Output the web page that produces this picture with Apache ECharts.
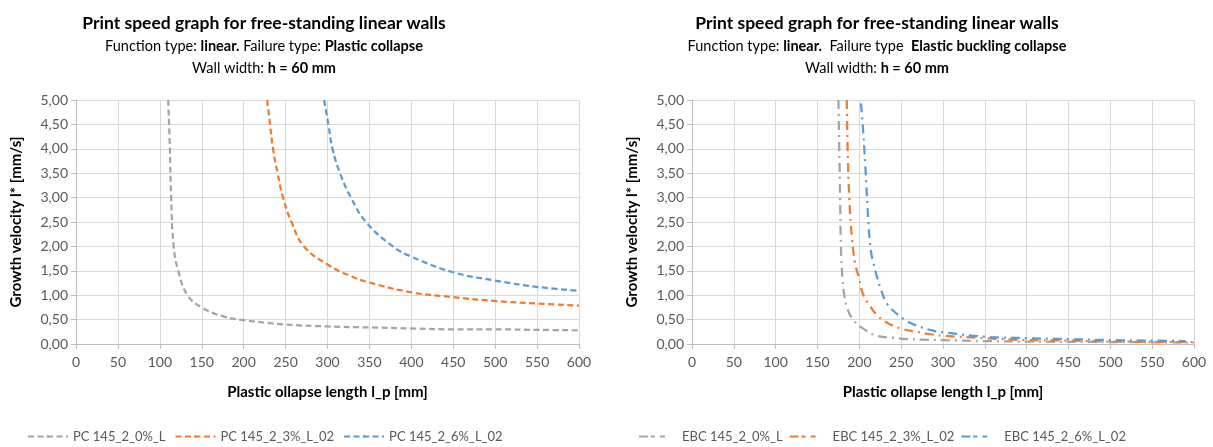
<!DOCTYPE html>
<html>
<head>
<meta charset="utf-8">
<script src="https://cdn.jsdelivr.net/npm/echarts@6/dist/echarts.min.js"></script>
<style>
  html, body { margin: 0; padding: 0; background: #fff; }
  #chart { width: 1213px; height: 447px; }
</style>
</head>
<body>
<div id="chart"></div>
<script>
// Plastic collapse (left panel): length l_p [mm] vs growth velocity [mm/s]
const pc0X = [110, 112, 113.5, 116.5, 122, 133, 150, 175, 200, 250, 300, 350, 400, 450, 500, 550, 600];
const pc0Y = [5.0, 4.0, 3.0, 2.0, 1.5, 1.0, 0.75, 0.57, 0.49, 0.40, 0.36, 0.34, 0.32, 0.30, 0.30, 0.29, 0.28];
const pc3X = [228, 231.5, 235, 240.5, 247, 257, 272, 300, 325, 350, 400, 450, 500, 550, 600];
const pc3Y = [5.0, 4.5, 4.0, 3.5, 3.0, 2.5, 2.0, 1.63, 1.41, 1.26, 1.06, 0.96, 0.88, 0.83, 0.785];
const pc6X = [296, 301, 306, 315, 328, 346, 378, 400, 450, 500, 550, 600];
const pc6Y = [5.0, 4.5, 4.0, 3.5, 3.0, 2.5, 2.0, 1.79, 1.47, 1.30, 1.17, 1.09];

// Elastic buckling collapse (right panel)
const ebc0X = [175, 176, 177, 178, 180, 182, 186, 194, 207, 223, 240, 256, 275, 300, 350, 400, 500, 600];
const ebc0Y = [5.0, 4.0, 3.0, 2.0, 1.3, 1.0, 0.71, 0.47, 0.29, 0.16, 0.13, 0.10, 0.09, 0.08, 0.06, 0.05, 0.04, 0.03];
const ebc3X = [185, 186, 188, 191, 195, 200, 204, 212, 223, 236, 251, 269, 285, 300, 350, 400, 450, 500, 600];
const ebc3Y = [5.0, 4.0, 3.0, 2.2, 1.65, 1.33, 1.04, 0.80, 0.56, 0.41, 0.31, 0.25, 0.20, 0.17, 0.12, 0.08, 0.07, 0.05, 0.04];
const ebc6X = [202, 204, 207, 211, 214, 217, 221, 226, 233, 244, 257, 273, 289, 300, 350, 400, 450, 500, 550, 590];
const ebc6Y = [4.93, 4.5, 3.69, 2.47, 1.89, 1.65, 1.38, 1.11, 0.83, 0.63, 0.47, 0.35, 0.27, 0.24, 0.15, 0.12, 0.10, 0.08, 0.07, 0.06];

const leftNames = ['PC 145_2_0%_L', 'PC 145_2_3%_L_02', 'PC 145_2_6%_L_02'];
const rightNames = ['EBC 145_2_0%_L', 'EBC 145_2_3%_L_02', 'EBC 145_2_6%_L_02'];

const xTicks = { min: 0, max: 600, interval: 50 };
const yTicks = { min: 0, max: 5, interval: 0.5 };

const GRAY = '#A5A5A5', ORANGE = '#ED7D31', BLUE = '#5B9BD5';
const FONT = 'Lato, "Open Sans", sans-serif';
const LABEL_COLOR = '#595959';

const pairs = (xs, ys) => xs.map((x, i) => [x, ys[i]]);

function xAxis(gridIndex) {
  return {
    type: 'value', gridIndex, min: xTicks.min, max: xTicks.max, interval: xTicks.interval,
    name: 'Plastic ollapse length l_p [mm]', nameLocation: 'middle', nameGap: 41,
    nameTextStyle: { fontFamily: FONT, fontWeight: 'bold', fontSize: 15, color: '#000' },
    axisLine: { show: true, lineStyle: { color: '#BFBFBF' } },
    axisTick: { show: true, length: 5, lineStyle: { color: '#BFBFBF' } },
    axisLabel: { fontFamily: FONT, fontSize: 14, color: LABEL_COLOR, margin: 11 },
    splitLine: { show: true, lineStyle: { color: '#D9D9D9' } }
  };
}
function yAxis(gridIndex) {
  return {
    type: 'value', gridIndex, min: yTicks.min, max: yTicks.max, interval: yTicks.interval,
    name: 'Growth velocity l* [mm/s]', nameLocation: 'middle', nameGap: 52, nameRotate: 90,
    nameTextStyle: { fontFamily: FONT, fontWeight: 'bold', fontSize: 15, color: '#000' },
    axisLine: { show: true, lineStyle: { color: '#BFBFBF' } },
    axisTick: { show: true, length: 5, lineStyle: { color: '#BFBFBF' } },
    axisLabel: { fontFamily: FONT, fontSize: 14, color: LABEL_COLOR, margin: 8,
      formatter: v => v.toFixed(2).replace('.', ',') },
    splitLine: { show: true, lineStyle: { color: '#D9D9D9' } }
  };
}

function line(name, xs, ys, color, dash, idx) {
  return {
    name, type: 'line', xAxisIndex: idx, yAxisIndex: idx,
    data: pairs(xs, ys), showSymbol: false, symbol: 'none',
    smooth: 0.45,
    lineStyle: { color, width: 2.25, type: dash },
    itemStyle: { color }
  };
}

const DASH = [6, 3.5];
const DASH_DOT = [9, 5, 2, 5];

function titleText(failLabel, failValue) {
  return '{t|Print speed graph for free-standing linear walls}\n' +
    '{n|Function type: }{b|linear.}{n|' + failLabel + '}{b|' + failValue + '}\n' +
    '{n|Wall width: }{b|h = 60 mm}';
}
const titleRich = {
  t: { fontFamily: FONT, fontWeight: 'bold', fontSize: 17.5, color: '#000', lineHeight: 23 },
  n: { fontFamily: FONT, fontWeight: 'normal', fontSize: 14.5, color: '#000', lineHeight: 22 },
  b: { fontFamily: FONT, fontWeight: 'bold', fontSize: 14.5, color: '#000', lineHeight: 22 }
};

const legendText = { fontFamily: FONT, fontSize: 13, color: LABEL_COLOR };

const option = {
  backgroundColor: '#fff',
  animation: false,
  title: [
    { left: 259, top: 7, textAlign: 'center',
      text: titleText(' Failure type: ', 'Plastic collapse'),
      textStyle: { rich: titleRich, align: 'center', fontWeight: 'normal' } },
    { left: 872, top: 7, textAlign: 'center',
      text: titleText('  Failure type  ', 'Elastic buckling collapse'),
      textStyle: { rich: titleRich, align: 'center', fontWeight: 'normal' } }
  ],
  grid: [
    { left: 76, top: 100, width: 503, height: 244 },
    { left: 692, top: 100, width: 502, height: 244 }
  ],
  xAxis: [xAxis(0), xAxis(1)],
  yAxis: [yAxis(0), yAxis(1)],
  legend: [
    { data: leftNames, left: 27, top: 430, padding: 0, itemWidth: 40, itemHeight: 3, itemGap: 9,
      textStyle: legendText },
    { data: rightNames, left: 638, top: 430, padding: 0, itemWidth: 26, itemHeight: 3, itemGap: 6,
      textStyle: Object.assign({ padding: [0, 0, 0, 12] }, legendText) }
  ],
  series: [
    line(leftNames[0], pc0X, pc0Y, GRAY, DASH, 0),
    line(leftNames[1], pc3X, pc3Y, ORANGE, DASH, 0),
    line(leftNames[2], pc6X, pc6Y, BLUE, DASH, 0),
    line(rightNames[0], ebc0X, ebc0Y, GRAY, DASH_DOT, 1),
    line(rightNames[1], ebc3X, ebc3Y, ORANGE, DASH_DOT, 1),
    line(rightNames[2], ebc6X, ebc6Y, BLUE, DASH_DOT, 1)
  ]
};

const chart = echarts.init(document.getElementById('chart'), null, { renderer: 'canvas' });
chart.setOption(option);
</script>
</body>
</html>
